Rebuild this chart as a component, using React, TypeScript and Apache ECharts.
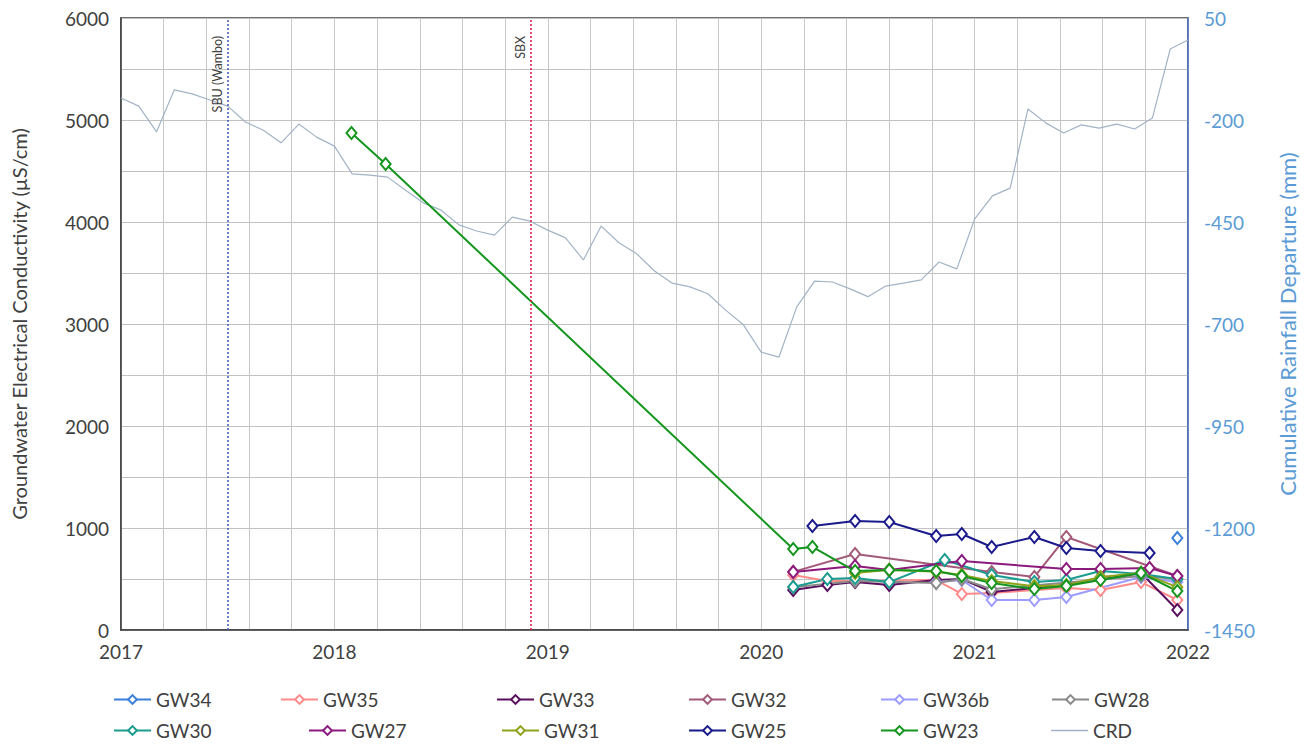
import React, { useEffect, useRef } from "react";
import * as echarts from "echarts";

// ---- data ----
const xYears = [2017, 2018, 2019, 2020, 2021, 2022];
const ecTicks = [0, 1000, 2000, 3000, 4000, 5000, 6000];
const crdTicks = [-1450, -1200, -950, -700, -450, -200, 50];

const gw34 = [[2021.95, 902]];
const gw35 = [[2020.15, 539], [2020.31, 480], [2020.44, 480], [2020.82, 490], [2020.94, 353], [2021.08, 363], [2021.43, 412], [2021.59, 392], [2021.78, 470], [2021.95, 294]];
const gw33 = [[2020.15, 392], [2020.31, 441], [2020.44, 470], [2020.6, 441], [2020.82, 490], [2020.94, 500], [2021.08, 373], [2021.28, 412], [2021.43, 441], [2021.78, 559], [2021.95, 196]];
const gw32 = [[2020.15, 570], [2020.44, 745], [2021.08, 569], [2021.28, 520], [2021.43, 912], [2021.95, 529]];
const gw36b = [[2020.82, 470], [2020.94, 490], [2021.08, 294], [2021.28, 294], [2021.43, 323], [2021.78, 520], [2021.95, 470]];
const gw28 = [[2020.15, 420], [2020.44, 480], [2020.82, 460], [2020.94, 500], [2021.08, 400], [2021.78, 530], [2021.95, 500]];
const gw30 = [[2020.15, 421], [2020.31, 500], [2020.44, 510], [2020.6, 470], [2020.86, 686], [2021.08, 539], [2021.28, 470], [2021.43, 490], [2021.59, 578], [2021.78, 549], [2021.95, 500]];
const gw27 = [[2020.15, 569], [2020.44, 627], [2020.6, 588], [2020.94, 676], [2021.43, 598], [2021.59, 598], [2021.82, 608], [2021.95, 529]];
const gw31 = [[2020.44, 560], [2020.6, 590], [2020.82, 570], [2020.94, 540], [2021.08, 480], [2021.28, 430], [2021.43, 440], [2021.59, 520], [2021.78, 560], [2021.95, 420]];
const gw25 = [[2020.24, 1020], [2020.44, 1069], [2020.6, 1059], [2020.82, 922], [2020.94, 941], [2021.08, 814], [2021.28, 912], [2021.43, 804], [2021.59, 775], [2021.82, 755]];
const gw23 = [[2018.08, 4873], [2018.24, 4569], [2020.15, 794], [2020.24, 814], [2020.44, 578], [2020.6, 588], [2020.82, 578], [2020.94, 529], [2021.08, 461], [2021.28, 402], [2021.43, 431], [2021.59, 490], [2021.78, 559], [2021.95, 382]];

// cumulative rainfall departure, monthly from Jan 2017 to Jan 2022
const crdStartYear = 2017;
const crdValues = [
  -146, -166, -229, -126, -136, -151, -166, -205, -225, -256, -210, -242,
  -264, -332, -335, -340, -372, -403, -421, -457, -472, -482, -438, -448,
  -470, -489, -543, -460, -501, -528, -570, -600, -609, -626, -666, -702,
  -769, -781, -658, -595, -597, -614, -633, -607, -600, -592, -548, -565,
  -443, -386, -367, -173, -207, -232, -212, -220, -210, -222, -195, -26,
  -4,
];

const events = [
  { name: "SBU (Wambo)", x: 2017.5, color: "#4d5fbf" },
  { name: "SBX", x: 2018.92, color: "#e0204a" },
];

const seriesDefs = [
  { name: "GW34", data: gw34, color: "#3a7fd9" },
  { name: "GW35", data: gw35, color: "#ff8a8a" },
  { name: "GW33", data: gw33, color: "#5a0f5e" },
  { name: "GW32", data: gw32, color: "#a35a78" },
  { name: "GW36b", data: gw36b, color: "#9c9cff" },
  { name: "GW28", data: gw28, color: "#8a8a8a" },
  { name: "GW30", data: gw30, color: "#1a9c90" },
  { name: "GW27", data: gw27, color: "#8c1a7c" },
  { name: "GW31", data: gw31, color: "#8fa31a" },
  { name: "GW25", data: gw25, color: "#1a1a8c" },
  { name: "GW23", data: gw23, color: "#14961e" },
];

const legendPos: Record<string, [number, number]> = {
  GW34: [113, 690], GW35: [280, 690], GW33: [496, 690], GW32: [688, 690], GW36b: [880, 690], GW28: [1051, 690],
  GW30: [113, 721], GW27: [308, 721], GW31: [501, 721], GW25: [688, 721], GW23: [880, 721], CRD: [1051, 721],
};

const FONT = "Lato, 'Noto Sans', sans-serif";
const TXT = "#404040";
const CRD_COLOR = "#a3b3c6";

export default function App() {
  const ref = useRef<HTMLDivElement>(null);
  useEffect(() => {
    if (!ref.current) return;
    const chart = echarts.init(ref.current, undefined, { renderer: "svg" });
    const crdData = crdValues.map((v, i) => [crdStartYear + i / 12, v]);

    const series: any[] = seriesDefs.map((s) => ({
      name: s.name,
      type: "line",
      data: s.data,
      yAxisIndex: 0,
      symbol: "emptyDiamond",
      symbolSize: [10, 12],
      showAllSymbol: true,
      lineStyle: { color: s.color, width: 2 },
      itemStyle: { color: s.color, borderColor: s.color, borderWidth: 1.5 },
      emphasis: { disabled: true },
      silent: true,
      z: 3,
    }));
    series.push({
      name: "CRD",
      type: "line",
      data: crdData,
      yAxisIndex: 1,
      symbol: "none",
      lineStyle: { color: CRD_COLOR, width: 1.2 },
      itemStyle: { color: CRD_COLOR },
      silent: true,
      z: 2,
      markLine: {
        silent: true,
        symbol: ["none", "none"],
        data: events.map((e) => ({
          xAxis: e.x,
          lineStyle: { color: e.color, type: [2, 2], width: 1.6 },
          label: {
            show: true,
            formatter: e.name,
            position: "insideEndTop",
            color: TXT,
            fontSize: 12.5,
            fontFamily: FONT,
            distance: [18, 4],
          },
        })),
      },
    });

    const legends = Object.keys(legendPos).map((name) => ({
      data: name === "CRD" ? [{ name, icon: "rect", itemStyle: { color: CRD_COLOR } }] : [name],
      left: legendPos[name][0],
      top: legendPos[name][1],
      itemWidth: 37,
      itemHeight: name === "CRD" ? 1.5 : 11,
      itemGap: 5,
      padding: 0,
      selectedMode: false,
      textStyle: { fontSize: 19, color: TXT, fontFamily: FONT, padding: [0, 0, 0, 0] },
    }));

    chart.setOption({
      animation: false,
      backgroundColor: "#ffffff",
      grid: { left: 121, right: 117, top: 18, bottom: 115, show: true, borderColor: "#404040", borderWidth: 1.5, containLabel: false },
      legend: legends,
      xAxis: {
        type: "value",
        min: xYears[0],
        max: xYears[xYears.length - 1],
        interval: 0.2,
        axisLine: { show: true, lineStyle: { color: "#404040", width: 1.5 } },
        axisTick: { show: false },
        splitLine: { show: true, lineStyle: { color: "#c6c6c6", width: 1 } },
        axisLabel: {
          interval: 0,
          fontSize: 19,
          color: TXT,
          fontFamily: FONT,
          margin: 12,
          formatter: (v: number) => {
            const r = Math.round(v);
            return Math.abs(v - r) < 1e-6 && xYears.includes(r) ? String(r) : "";
          },
        },
      },
      yAxis: [
        {
          type: "value",
          min: 0,
          max: 6000,
          interval: 500,
          position: "left",
          name: "Groundwater Electrical Conductivity (µS/cm)",
          nameLocation: "middle",
          nameRotate: 90,
          nameGap: 92,
          nameTextStyle: { fontSize: 20, color: TXT, fontFamily: FONT },
          axisLine: { show: true, lineStyle: { color: "#404040", width: 1.5 } },
          axisTick: { show: false },
          splitLine: { show: true, lineStyle: { color: "#c2c2c2", width: 1 } },
          axisLabel: {
            fontSize: 19,
            color: TXT,
            fontFamily: FONT,
            margin: 12,
            formatter: (v: number) => (ecTicks.includes(v) ? String(v) : ""),
          },
        },
        {
          type: "value",
          min: crdTicks[0],
          max: crdTicks[crdTicks.length - 1],
          position: "right",
          name: "Cumulative Rainfall Departure (mm)",
          nameLocation: "middle",
          nameRotate: 90,
          nameGap: 88,
          nameTextStyle: { fontSize: 22, color: "#5b9bd5", fontFamily: FONT },
          axisLine: { show: true, lineStyle: { color: "#4a6fc0", width: 1.5 } },
          axisTick: { show: false },
          splitLine: { show: false },
          axisLabel: {
            customValues: crdTicks,
            fontSize: 19,
            color: "#5b9bd5",
            fontFamily: FONT,
            margin: 16,
            formatter: (v: number) => String(v),
          },
        },
      ],
      series,
    });
    return () => chart.dispose();
  }, []);
  return <div ref={ref} style={{ position: "fixed", left: 0, top: 0, width: 1306, height: 745 }} />;
}
